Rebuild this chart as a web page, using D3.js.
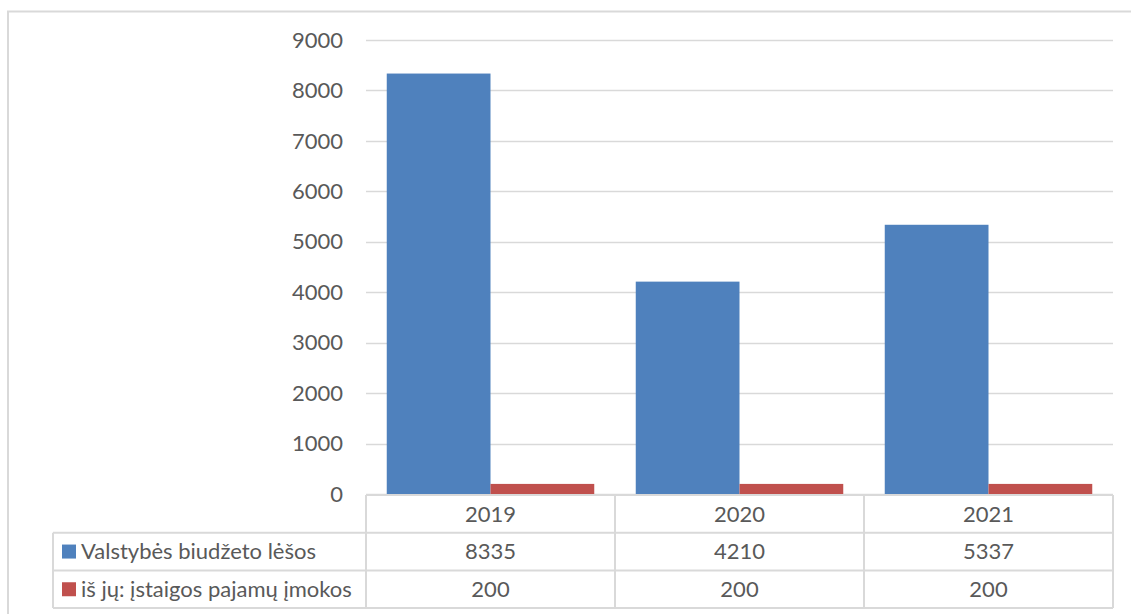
<!DOCTYPE html>
<html>
<head>
<meta charset="utf-8">
<script src="https://d3js.org/d3.v7.min.js"></script>
<style>
  body { margin: 0; background: white; }
  text { font-family: Lato, "Open Sans", sans-serif; fill: #595959; }
</style>
</head>
<body>
<svg width="1131" height="614" id="MainSVG"></svg>
<script>
// chart data
var years = ["2019", "2020", "2021"];
var seriesNames = ["Valstybės biudžeto lėšos", "iš jų: įstaigos pajamų įmokos"];
var budget = [8335, 4210, 5337];
var ownIncome = [200, 200, 200];
var seriesColors = ["#4f81bd", "#c0504d"];
var yTicks = [0, 1000, 2000, 3000, 4000, 5000, 6000, 7000, 8000, 9000];

var series = [budget, ownIncome];
var fontSize = "22px";

var svg = d3.select("#MainSVG");

// outer chart border (runs off the page on right and bottom)
svg.append("path")
  .attr("d", "M8 1000 L8 11.5 L1200 11.5")
  .attr("fill", "none")
  .attr("stroke", "#d9d9d9")
  .attr("stroke-width", 2);

var plotLeft = 366, plotRight = 1113, plotTop = 40, plotBottom = 494;

var ys = d3.scaleLinear().domain([0, 9000]).range([plotBottom, plotTop]);
var xs = d3.scaleBand().domain(years).range([plotLeft, plotRight]);
var xin = d3.scaleBand().domain([0, 1]).range([0, xs.bandwidth()]).paddingOuter(0.2);

// gridlines
svg.append("g")
  .selectAll("line")
  .data(yTicks)
  .enter().append("line")
  .attr("x1", plotLeft)
  .attr("x2", plotRight)
  .attr("y1", function(d) { return Math.round(ys(d)) + 0.5; })
  .attr("y2", function(d) { return Math.round(ys(d)) + 0.5; })
  .attr("stroke", "#d9d9d9")
  .attr("stroke-width", 1.5);

// y labels
svg.append("g")
  .selectAll("text")
  .data(yTicks)
  .enter().append("text")
  .attr("x", 343)
  .attr("y", function(d) { return ys(d); })
  .attr("dy", "0.35em")
  .attr("text-anchor", "end")
  .attr("font-size", fontSize)
  .text(function(d) { return d; });

// bars
series.forEach(function(vals, si) {
  svg.append("g")
    .selectAll("rect")
    .data(vals)
    .enter().append("rect")
    .attr("x", function(d, i) { return xs(years[i]) + xin(si); })
    .attr("width", xin.bandwidth())
    .attr("y", function(d) { return ys(d); })
    .attr("height", function(d) { return plotBottom - ys(d); })
    .attr("fill", seriesColors[si]);
});

// data table
var rowH = 37.7;
var tableLeft = 53;
var grid = svg.append("g").attr("stroke", "#d9d9d9").attr("stroke-width", 2);

grid.append("line").attr("x1", plotLeft).attr("x2", plotRight).attr("y1", plotBottom + 1).attr("y2", plotBottom + 1);
for (var r = 1; r <= 3; r++) {
  grid.append("line").attr("x1", tableLeft).attr("x2", plotRight)
    .attr("y1", plotBottom + 1 + r * rowH).attr("y2", plotBottom + 1 + r * rowH);
}
grid.append("line").attr("x1", tableLeft).attr("x2", tableLeft)
  .attr("y1", plotBottom + 1 + rowH).attr("y2", plotBottom + 1 + 3 * rowH);
[plotLeft].concat(years.map(function(y) { return xs(y) + xs.bandwidth(); })).forEach(function(x) {
  grid.append("line").attr("x1", x).attr("x2", x)
    .attr("y1", plotBottom + 1).attr("y2", plotBottom + 1 + 3 * rowH);
});

// year labels
svg.append("g")
  .selectAll("text")
  .data(years)
  .enter().append("text")
  .attr("x", function(d) { return xs(d) + xs.bandwidth() / 2; })
  .attr("y", plotBottom + 1 + rowH / 2)
  .attr("dy", "0.35em")
  .attr("text-anchor", "middle")
  .attr("font-size", fontSize)
  .text(function(d) { return d; });

// series rows with legend keys
series.forEach(function(vals, si) {
  var cy = plotBottom + 1 + (si + 1.5) * rowH;
  svg.append("rect")
    .attr("x", 62).attr("y", cy - 7)
    .attr("width", 14).attr("height", 14)
    .attr("fill", seriesColors[si]);
  svg.append("text")
    .attr("x", 81).attr("y", cy)
    .attr("dy", "0.35em")
    .attr("font-size", fontSize)
    .text(seriesNames[si]);
  svg.append("g")
    .selectAll("text")
    .data(vals)
    .enter().append("text")
    .attr("x", function(d, i) { return xs(years[i]) + xs.bandwidth() / 2; })
    .attr("y", cy)
    .attr("dy", "0.35em")
    .attr("text-anchor", "middle")
    .attr("font-size", fontSize)
    .text(function(d) { return d; });
});
</script>
</body>
</html>
